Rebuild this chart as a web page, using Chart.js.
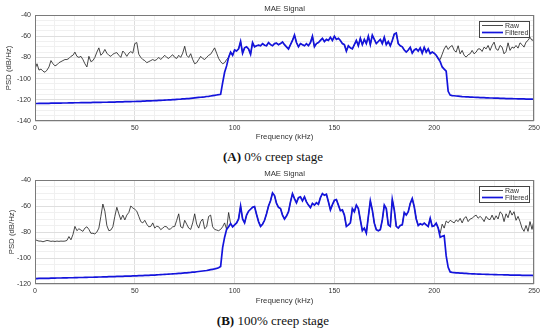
<!DOCTYPE html>
<html lang="en">
<head>
<meta charset="UTF-8">
<title>MAE Signal</title>
<script src="https://cdn.jsdelivr.net/npm/chart.js@4.4.2/dist/chart.umd.min.js"></script>
<style>
    body {
        margin: 0;
        background: #fff;
    }
    .page {
        position: relative;
        width: 550px;
        height: 335px;
    }
    .panel {
        position: absolute;
        left: 0;
        width: 550px;
        height: 148px;
    }
    .caption {
        position: absolute;
        left: 0;
        width: 546px;
        text-align: center;
        font-family: "Liberation Serif", "DejaVu Serif", serif;
        font-size: 13px;
        line-height: 16px;
        color: #111;
    }
</style>
</head>
<body>
<div class="page">
    <div class="panel" style="top:0"><canvas id="chartA" width="550" height="148"></canvas></div>
    <div class="caption" style="top:149px"><b>(A)</b> 0% creep stage</div>
    <div class="panel" style="top:165px"><canvas id="chartB" width="550" height="148"></canvas></div>
    <div class="caption" style="top:313px"><b>(B)</b> 100% creep stage</div>
</div>
<script>
    // frequency grid, 1 kHz steps 0..250
    const freq = Array.from({ length: 251 }, (_, i) => i);

    // (A) 0% creep stage
    const filtA = [
        -123.5,-123.5,-123.4,-123.4,-123.4,-123.3,-123.3,-123.3,-123.2,-123.2,
        -123.2,-123.1,-123.1,-123.1,-123.0,-123.0,-123.0,-122.9,-122.9,-122.9,
        -122.8,-122.8,-122.8,-122.7,-122.7,-122.7,-122.6,-122.6,-122.6,-122.5,
        -122.5,-122.5,-122.4,-122.4,-122.3,-122.3,-122.3,-122.2,-122.2,-122.1,
        -122.1,-122.0,-122.0,-121.9,-121.9,-121.8,-121.8,-121.7,-121.7,-121.6,
        -121.6,-121.5,-121.4,-121.4,-121.3,-121.2,-121.1,-121.1,-121.0,-120.9,
        -120.8,-120.7,-120.6,-120.5,-120.4,-120.3,-120.2,-120.1,-120.0,-119.9,
        -119.8,-119.6,-119.5,-119.4,-119.2,-119.1,-118.9,-118.8,-118.6,-118.4,
        -118.2,-118.0,-117.8,-117.6,-117.4,-117.2,-116.9,-116.7,-116.4,-116.1,
        -115.8,-115.5,-115.2,-114.8,-104,-94,-88,-80,-75,-78,
        -73,-74,-72,-65,-76,-71,-70,-72,-77,-66,
        -70,-69,-68.5,-69,-67,-68.5,-69,-66,-68,-69,
        -67,-66.5,-68,-67,-65.5,-68,-70,-72,-68,-64,
        -59,-66,-70,-67,-68,-69,-67,-69,-66,-60,
        -70,-67,-66,-64,-62,-65,-63,-64,-61,-64,
        -60,-63,-62,-64,-67,-68,-74,-69,-71,-72,
        -68,-64,-69,-62,-68,-63,-67,-60,-68,-59,
        -63,-67,-65,-63,-67,-61,-68,-65,-69,-64,
        -58,-57,-67,-69,-70,-73,-75,-73,-70.5,-76,
        -73,-72,-74,-71,-76,-70.5,-75,-72,-76.5,-75,
        -76,-78,-81,-84,-89,-91,-93,-112,-115.5,-116.0,
        -116.2,-116.4,-116.6,-116.8,-117.0,-117.1,-117.2,-117.3,-117.4,-117.5,
        -117.6,-117.7,-117.8,-117.9,-118.0,-118.0,-118.1,-118.2,-118.3,-118.3,
        -118.4,-118.5,-118.5,-118.6,-118.6,-118.7,-118.8,-118.8,-118.9,-118.9,
        -119.0,-119.0,-119.1,-119.1,-119.2,-119.2,-119.3,-119.3,-119.4,-119.4,
        -119.5
    ];
    // raw signal, 0..97 kHz and 203..250 kHz (under the filtered line in between)
    const rawALow = [
        -91,-86,-92,-91,-93,-94,-92,-89,-83,-86,
        -88,-87,-85,-84,-83,-82,-82,-81,-79,-78,
        -75,-79,-80,-79,-82,-86,-89,-79,-84,-83,
        -80,-75,-71,-78,-76,-72.5,-76,-78,-79,-77,
        -76,-75.5,-78,-80,-74,-76,-79,-76,-74.5,-76,
        -67,-66,-77,-80,-82,-83,-85,-84,-83,-82,
        -83,-82,-80,-82,-80,-78,-80,-81,-79,-77.5,
        -80,-81,-78,-80,-76,-69.5,-78,-80,-76.5,-82,
        -86,-85,-82,-79,-81,-82,-80,-78,-77,-74,
        -71,-76,-81,-84,-86,-85,-82,-80
    ];
    const rawAHigh = [
        -82,-77,-72,-69,-72.5,-70,-68.75,
        -73.4,-75,-69,-76.6,-73.4,-78,-79.7,-77.5,-76.6,-73.4,
        -76.6,-75,-72,-72,-74.4,-70.3,-72,-68.75,-73.4,-68.75,
        -65.6,-72,-73.4,-68.75,-70.3,-76.6,-74.4,-66.25,-73.4,-70.3,
        -71.25,-68.75,-71.25,-66.25,-68,-70.3,-65.6,-64,-61,-64,-62.5
    ];

    // (B) 100% creep stage
    const filtB = [
        -115.8,-115.8,-115.7,-115.7,-115.7,-115.6,-115.6,-115.6,-115.5,-115.5,
        -115.5,-115.4,-115.4,-115.4,-115.3,-115.3,-115.3,-115.2,-115.2,-115.2,
        -115.1,-115.1,-115.0,-115.0,-115.0,-114.9,-114.9,-114.8,-114.8,-114.8,
        -114.7,-114.7,-114.6,-114.6,-114.5,-114.5,-114.5,-114.4,-114.4,-114.3,
        -114.3,-114.2,-114.2,-114.1,-114.1,-114.0,-114.0,-113.9,-113.9,-113.8,
        -113.8,-113.7,-113.6,-113.6,-113.5,-113.4,-113.4,-113.3,-113.2,-113.1,
        -113.1,-113.0,-112.9,-112.8,-112.7,-112.6,-112.5,-112.4,-112.3,-112.2,
        -112.1,-112.0,-111.9,-111.8,-111.6,-111.5,-111.4,-111.2,-111.1,-110.9,
        -110.8,-110.6,-110.4,-110.2,-110.0,-109.8,-109.6,-109.3,-109.0,-108.7,
        -108.4,-108.0,-107.5,-106.5,-92,-84,-78,-76,-73.5,-76,
        -74.5,-73,-70,-60,-70,-73,-67,-64,-62.5,-61,
        -60.5,-66.5,-72,-75.7,-74,-71,-66,-60,-56,-50,
        -52,-58,-61,-62,-67,-70,-67.7,-64.4,-56.8,-50.5,
        -54.3,-57.6,-53.6,-53,-56,-53,-56.8,-59.3,-61.3,-58,
        -59.3,-57.5,-58.7,-53.6,-50.5,-51.8,-51,-56.8,-63,-59,
        -55.6,-55,-59.3,-63.6,-63,-67,-75.7,-74.5,-73,-62,
        -64.4,-59.3,-62,-70.7,-79,-77,-80.8,-68.2,-56,-63.1,
        -73.2,-78.2,-79,-78.2,-70.7,-59.3,-62,-74.5,-75.7,-55,
        -63,-75.7,-77,-75,-74.5,-65,-67,-64.4,-58,-54.3,
        -60.6,-70,-75,-73.7,-74.5,-73.2,-74.5,-75.7,-69.4,-75.7,
        -75.2,-73.2,-77,-84,-83.3,-82.8,-98.4,-107.2,-110.7,-111.0,
        -111.2,-111.4,-111.5,-111.6,-111.7,-111.8,-111.9,-112.0,-112.1,-112.2,
        -112.2,-112.3,-112.4,-112.4,-112.5,-112.5,-112.6,-112.6,-112.7,-112.7,
        -112.8,-112.8,-112.9,-112.9,-112.9,-113.0,-113.0,-113.0,-113.1,-113.1,
        -113.1,-113.2,-113.2,-113.2,-113.3,-113.3,-113.3,-113.4,-113.4,-113.4,
        -113.5
    ];
    const rawBLow = [
        -85.8,-86.5,-87,-87,-87.5,-87,-86.5,-86.8,-87.2,-87,
        -87.3,-87,-87.2,-87,-87.1,-87,-86.5,-83.5,-86,-82,
        -75.7,-79,-77.5,-78.5,-79.5,-77,-76,-78,-81,-81,
        -81.5,-80,-77,-68,-58.5,-64,-75,-79,-78.5,-76,
        -68,-61,-66,-70.5,-67,-70.7,-67,-65,-60,-61.5,
        -62.5,-64,-68,-72,-73,-71,-74,-76,-75.7,-73,
        -77,-75.5,-76,-78.2,-77,-75.7,-76,-78,-77.5,-76,
        -75.7,-71,-66,-76,-77,-71,-74,-77,-78,-73,
        -66,-74,-77,-72,-70,-77.5,-76,-68,-67,-76,
        -78,-78.5,-79,-78,-76,-73,-78,-65
    ];
    const rawBHigh = [
        -81,-74,-77,-71.5,-73,-71,-72,
        -73,-70.7,-72,-69.5,-73,-69.4,-68.2,-72,-70,-69.4,
        -68,-67,-69.4,-68,-69.5,-72,-68,-70,-70.5,-67,
        -70.7,-67.5,-70,-64.5,-66,-72,-66,-69,-63.5,-67,
        -64.4,-71,-68,-72,-77,-79.5,-75,-79.5,-72,-78,-71
    ];

    const rawA = rawALow.concat(filtA.slice(98, 203), rawAHigh);
    const rawB = rawBLow.concat(filtB.slice(98, 203), rawBHigh);

    const FONT = '"Liberation Sans", Arial, sans-serif';
    const TEXT = '#333';

    // box around the axes, title and legend drawn like the matlab figure
    const framePlugin = {
        id: 'frame',
        afterDatasetsDraw(chart, args, opts) {
            const ctx = chart.ctx;
            const a = chart.chartArea;
            ctx.save();
            ctx.strokeStyle = '#7a7a7a';
            ctx.lineWidth = 1;
            ctx.strokeRect(a.left + 0.5, a.top + 0.5, a.width - 1, a.height - 1);

            ctx.fillStyle = TEXT;
            ctx.font = '7.8px ' + FONT;
            ctx.textAlign = 'center';
            ctx.textBaseline = 'middle';
            ctx.fillText(opts.title, (a.left + a.right) / 2, a.top - 6);

            const x0 = a.right - 55, y0 = a.top + 6;
            ctx.fillStyle = '#fff';
            ctx.fillRect(x0, y0, 50, 16);
            ctx.strokeStyle = '#444';
            ctx.strokeRect(x0 + 0.5, y0 + 0.5, 50, 16);
            chart.data.datasets.forEach((ds, i) => {
                const y = y0 + 4.5 + i * 7;
                ctx.strokeStyle = ds.borderColor;
                ctx.lineWidth = ds.borderWidth;
                ctx.beginPath();
                ctx.moveTo(x0 + 3, y);
                ctx.lineTo(x0 + 24, y);
                ctx.stroke();
                ctx.fillStyle = TEXT;
                ctx.font = '7px ' + FONT;
                ctx.textAlign = 'left';
                ctx.fillText(ds.label, x0 + 26, y + 0.5);
            });
            ctx.restore();
        }
    };

    function makeChart(id, raw, filt, yMin, yMax, plotBottom, yTitlePad, xTitlePad) {
        const canvas = document.getElementById(id);
        return new Chart(canvas.getContext('2d'), {
            type: 'line',
            data: {
                datasets: [
                    {
                        label: 'Raw',
                        data: freq.map((f, i) => ({ x: f, y: raw[i] })),
                        borderColor: '#1a1a1a',
                        borderWidth: 0.8,
                        pointRadius: 0,
                        tension: 0,
                        order: 2
                    },
                    {
                        label: 'Filtered',
                        data: freq.map((f, i) => ({ x: f, y: filt[i] })),
                        borderColor: '#1414dc',
                        borderWidth: 1.7,
                        pointRadius: 0,
                        tension: 0,
                        order: 1
                    }
                ]
            },
            options: {
                responsive: false,
                animation: false,
                layout: { padding: { top: 15, right: 16, left: 0, bottom: 0 } },
                plugins: {
                    legend: { display: false },
                    tooltip: { enabled: false },
                    frame: { title: 'MAE Signal' }
                },
                scales: {
                    x: {
                        type: 'linear',
                        min: 0,
                        max: 250,
                        afterFit: s => { s.height = canvas.height - plotBottom; },
                        border: { display: false },
                        grid: {
                            drawTicks: false,
                            color: c => c.tick.value % 50 === 0 ? '#dedede' : '#f0f0f0'
                        },
                        ticks: {
                            stepSize: 10,
                            autoSkip: false,
                            maxRotation: 0,
                            padding: 3,
                            color: TEXT,
                            font: { family: FONT, size: 7 },
                            callback: v => v % 50 === 0 ? v : ''
                        },
                        title: {
                            display: true,
                            text: 'Frequency (kHz)',
                            color: TEXT,
                            font: { family: FONT, size: 7.8 },
                            padding: { top: 0, bottom: xTitlePad }
                        }
                    },
                    y: {
                        min: yMin,
                        max: yMax,
                        afterFit: s => { s.width = 35; },
                        border: { display: false },
                        grid: {
                            drawTicks: false,
                            color: c => c.tick.value % 20 === 0 ? '#dedede' : '#f0f0f0'
                        },
                        ticks: {
                            stepSize: 5,
                            autoSkip: false,
                            padding: 4,
                            color: TEXT,
                            font: { family: FONT, size: 7 },
                            callback: v => v % 20 === 0 ? v : ''
                        },
                        title: {
                            display: true,
                            text: 'PSD (dB/Hz)',
                            color: TEXT,
                            font: { family: FONT, size: 7.8 },
                            padding: { top: yTitlePad, bottom: 0 }
                        }
                    }
                }
            },
            plugins: [framePlugin]
        });
    }

    makeChart('chartA', rawA, filtA, -140, -40, 121, 4.5, 6.3);
    makeChart('chartB', rawB, filtB, -120, -40, 119, 7, 7.3);
</script>
</body>
</html>
